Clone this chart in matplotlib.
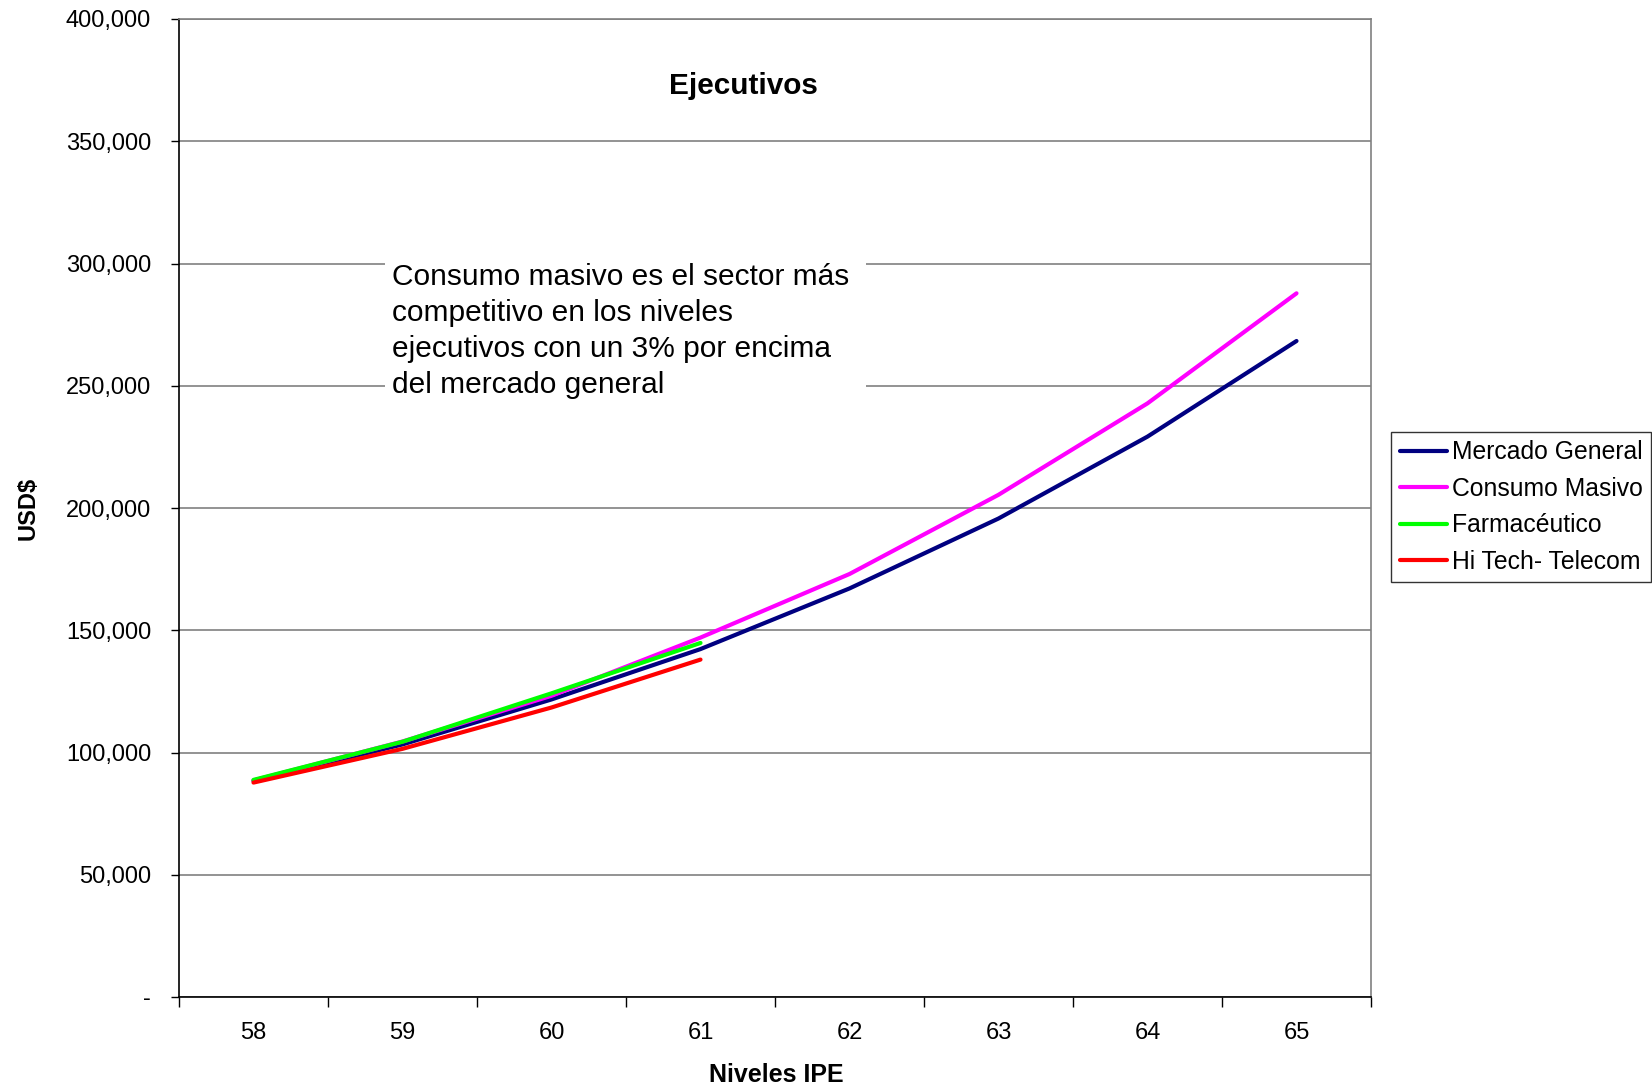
import numpy as np
import matplotlib
matplotlib.use("Agg")

import matplotlib.pyplot as plt
from matplotlib.patches import Rectangle
from matplotlib.ticker import FuncFormatter

plt.rcParams["font.family"] = ["Liberation Sans", "DejaVu Sans"]

# =============================
# DATA
# =============================

niveles = [58, 59, 60, 61, 62, 63, 64, 65]
mercado_general = [88400, 103300, 121700, 142300, 167100, 195700, 229200, 268300]
consumo_masivo = [88600, 104500, 123200, 147000, 173000, 205400, 242800, 287800]
farmaceutico = [88800, 104400, 124200, 144800]
hi_tech = [87700, 101500, 118400, 138000]

series = [
    ("Mercado General", niveles, mercado_general, "#000080"),
    ("Consumo Masivo", niveles, consumo_masivo, "#FF00FF"),
    ("Farmacéutico", niveles[:4], farmaceutico, "#00FF00"),
    ("Hi Tech- Telecom", niveles[:4], hi_tech, "#FF0000"),
]

y_ticks = list(range(0, 400001, 50000))

nota = ("Consumo masivo es el sector más\n"
        "competitivo en los niveles\n"
        "ejecutivos con un 3% por encima\n"
        "del mercado general")

# =============================
# FIGURE
# =============================

W, H = 1652, 1087
fig = plt.figure(figsize=(W / 100, H / 100), dpi=100)
ax = fig.add_axes([179 / W, 1 - 997 / H, (1371 - 179) / W, (997 - 19) / H])

for label, xs, ys, color in series:
    ax.plot(xs, ys, color=color, linewidth=3, label=label,
            solid_capstyle="round", zorder=3)

ax.set_xlim(niveles[0] - 0.5, niveles[-1] + 0.5)
ax.set_ylim(0, 400000)

# grid
ax.set_yticks(y_ticks)
ax.yaxis.grid(True, color="#808080", linewidth=1.2)
ax.set_axisbelow(True)
ax.yaxis.set_major_formatter(
    FuncFormatter(lambda v, p: "-" if v == 0 else f"{int(v):,}"))
ax.tick_params(axis="y", direction="out", length=6, width=1, pad=14,
               labelsize=17, color="black")

# category axis: tick marks between, labels in the middle
ax.set_xticks(np.arange(niveles[0] - 0.5, niveles[-1] + 1, 1.0))
ax.set_xticklabels([])
ax.set_xticks(niveles, minor=True)
ax.set_xticklabels([str(n) for n in niveles], minor=True)
ax.tick_params(axis="x", which="major", direction="out", length=7, width=1)
ax.tick_params(axis="x", which="minor", length=0, pad=18, labelsize=17)

for side in ["top", "right"]:
    ax.spines[side].set_color("#808080")
    ax.spines[side].set_linewidth(1.2)
for side in ["left", "bottom"]:
    ax.spines[side].set_color("black")
    ax.spines[side].set_linewidth(1.2)

# text box over the gridlines
ax.add_patch(Rectangle((385 / W, 1 - 408 / H), (866 - 385) / W, (408 - 248) / H,
                       transform=fig.transFigure, facecolor="white",
                       edgecolor="none", zorder=2))
fig.text(392 / W, 1 - 393 / H, nota, ha="left", va="baseline",
         fontsize=21.5, linespacing=1.37, zorder=4)

fig.text(743 / W, 1 - 86 / H, "Ejecutivos", ha="center", va="center",
         fontsize=21.4, fontweight="bold")
fig.text(28 / W, 1 - 508 / H, "USD$", ha="center", va="center",
         rotation=90, fontsize=17, fontweight="bold")
fig.text(776 / W, 1 - 1075 / H, "Niveles IPE", ha="center", va="center",
         fontsize=18, fontweight="bold")

leg = fig.legend(loc="center left", bbox_to_anchor=(1391 / W, 1 - 507 / H),
                 fontsize=17.8, frameon=True, fancybox=False, edgecolor="black",
                 handlelength=1.9, handletextpad=0.2, labelspacing=0.5,
                 borderpad=0.35, borderaxespad=0)
leg.get_frame().set_linewidth(1)

fig.savefig("out.png", dpi=100)
